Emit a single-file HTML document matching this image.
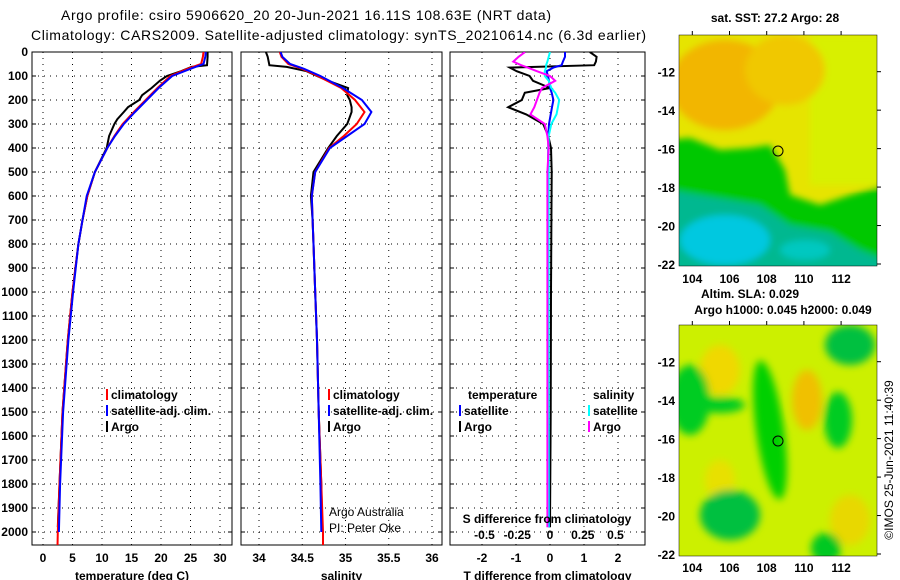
<!DOCTYPE html>
<html><head><meta charset="utf-8"><style>
html,body{margin:0;padding:0;background:#fff;width:900px;height:580px;overflow:hidden}
svg{display:block;font-family:"Liberation Sans",sans-serif}
.t{font-size:12px;font-weight:bold;fill:#000}
</style></head><body>
<svg id="s" width="900" height="580" viewBox="0 0 900 580" xmlns="http://www.w3.org/2000/svg">
<defs>
<filter id="bl" x="-20%" y="-20%" width="140%" height="140%"><feGaussianBlur stdDeviation="3.5"/></filter>
<filter id="bl2" x="-20%" y="-20%" width="140%" height="140%"><feGaussianBlur stdDeviation="4"/></filter>
<clipPath id="c1"><rect x="32" y="52" width="200" height="493"/></clipPath>
<clipPath id="c2"><rect x="241" y="52" width="201" height="493"/></clipPath>
<clipPath id="c3"><rect x="450" y="52" width="195" height="493"/></clipPath>
<clipPath id="m1"><rect x="679" y="35" width="198" height="231"/></clipPath>
<clipPath id="m2"><rect x="679" y="325" width="198" height="231"/></clipPath>
</defs>
<text x="61" y="20" font-size="14" textLength="490">Argo profile: csiro 5906620_20 20-Jun-2021 16.11S 108.63E (NRT data)</text>
<text x="31" y="40" font-size="14" textLength="615">Climatology: CARS2009. Satellite-adjusted climatology: synTS_20210614.nc (6.3d earlier)</text>

<g>
<g clip-path="url(#m1)">
<rect x="679" y="35" width="198" height="231" fill="#e6e400"/>
<g filter="url(#bl)">
<rect x="810" y="35" width="80" height="150" fill="#d8f000"/>
<ellipse cx="725" cy="85" rx="55" ry="45" fill="#f2b600"/>
<ellipse cx="785" cy="70" rx="40" ry="35" fill="#f0c800"/>
<polygon points="670,140 690,138 720,150 750,148 770,145 785,170 790,195 820,205 850,195 885,185 885,275 670,275" fill="#00c800"/>
<polygon points="670,190 700,195 760,205 790,225 830,232 860,250 885,260 885,275 670,275" fill="#00b890"/>
<ellipse cx="725" cy="240" rx="45" ry="25" fill="#00c8e0"/>
<ellipse cx="805" cy="250" rx="25" ry="10" fill="#00c8c0"/>
</g>
</g>
<rect x="679" y="35" width="198" height="231" fill="none" stroke="#000" stroke-width="0.5"/>
<circle cx="778" cy="151" r="5" fill="none" stroke="#000" stroke-width="1"/>
</g>
<text x="775" y="22" class="t" text-anchor="middle">sat. SST: 27.2 Argo: 28</text>
<text x="750" y="298" class="t" text-anchor="middle">Altim. SLA: 0.029</text>
<text x="783" y="314" class="t" text-anchor="middle">Argo h1000: 0.045 h2000: 0.049</text>

<g>
<g clip-path="url(#m2)">
<rect x="679" y="325" width="198" height="231" fill="#ccf000"/>
<g filter="url(#bl2)">
<ellipse cx="720" cy="370" rx="20" ry="25" fill="#f0d800"/>
<ellipse cx="807" cy="400" rx="15" ry="30" fill="#f0c000"/>
<ellipse cx="720" cy="480" rx="15" ry="20" fill="#e8e000"/>
<ellipse cx="850" cy="520" rx="20" ry="25" fill="#e8d800"/>
<ellipse cx="770" cy="430" rx="14" ry="70" fill="#00d000" transform="rotate(-8 770 430)"/>
<ellipse cx="850" cy="345" rx="25" ry="20" fill="#00c040"/>
<ellipse cx="690" cy="400" rx="20" ry="35" fill="#00cc20"/>
<ellipse cx="720" cy="405" rx="25" ry="8" fill="#00cc20"/>
<ellipse cx="838" cy="420" rx="14" ry="28" fill="#00cc20"/>
<ellipse cx="730" cy="515" rx="30" ry="25" fill="#00c040"/>
<ellipse cx="826" cy="548" rx="15" ry="15" fill="#00c820"/>
</g>
</g>
<rect x="679" y="325" width="198" height="231" fill="none" stroke="#000" stroke-width="0.5"/>
<circle cx="778" cy="441" r="5" fill="none" stroke="#000" stroke-width="1"/>
</g>
<text transform="translate(893,460) rotate(-90)" font-size="12" text-anchor="middle">©IMOS 25-Jun-2021 11:40:39</text>
<g id="dyn"></g>
</svg>
<script>
// ---- data ----
const depthTicks = [0,100,200,300,400,500,600,700,800,900,1000,1100,1200,1300,1400,1500,1600,1700,1800,1900,2000];
const tempTicks = [0,5,10,15,20,25,30];
const salTicks = [34,34.5,35,35.5,36];
const dTTicks = [-2,-1,0,1,2];
const dSTicks = [-0.5,-0.25,0,0.25,0.5];
const lonTicks = [104,106,108,110,112];
const latTicks = [-12,-14,-16,-18,-20,-22];

const climDepth = [0,20,50,70,100,150,200,250,300,350,400,500,600,700,800,1000,1200,1500,1800,2000,2060];
const climTemp  = [27.2,27.1,26.8,24.5,21.6,19.4,17.4,15.4,13.5,12.1,10.9,8.8,7.5,6.7,6.0,5.0,4.2,3.3,2.8,2.5,2.45];
const satTemp   = [27.6,27.5,27.2,25.0,21.9,19.6,17.6,15.6,13.7,12.2,10.9,8.8,7.4,6.7,6.0,5.1,4.3,3.4,2.9,2.7];
const argoDepth = [0,20,55,62,80,100,120,150,180,200,230,250,280,300,350,400,500,600,700,800,1000,1200,1500,1800,1980];
const argoTemp  = [27.9,27.9,27.8,25.2,23.4,21.0,19.8,18.4,16.8,16.3,14.4,13.7,12.6,12.1,11.2,10.8,8.8,7.5,6.7,6.0,5.0,4.2,3.3,2.8,2.5];

const climSal = [34.24,34.26,34.34,34.5,34.68,34.95,35.11,35.22,35.13,34.98,34.81,34.65,34.61,34.62,34.63,34.65,34.67,34.69,34.72,34.74,34.74];
const satSal  = [34.25,34.27,34.36,34.52,34.71,34.97,35.19,35.3,35.22,35.02,34.82,34.65,34.61,34.62,34.63,34.65,34.67,34.69,34.71,34.72];
const argoSal = [34.08,34.10,34.12,34.32,34.55,34.67,34.8,35.03,35.02,35.05,35.07,35.07,35.04,35.02,34.9,34.8,34.63,34.6,34.62,34.63,34.65,34.67,34.69,34.72,34.73];

const diffDepth = [0,20,40,55,65,80,100,120,150,170,200,230,260,300,350,400,500,700,1000,1500,1980];
const dTclim = [1.17,1.37,1.35,1.3,-1.18,-0.98,-0.6,-0.5,0.0,-0.74,-0.83,-1.23,-0.7,-0.2,-0.05,0.03,0.05,0.04,0.03,0.02,0.0];
const dTsat  = [0.44,0.44,0.38,0.34,0.1,-0.1,-0.06,-0.03,0.0,0.05,0.1,0.06,0.02,-0.03,-0.05,-0.05,-0.06,-0.05,-0.05,-0.04,-0.03];
const dSclim = [-0.19,-0.24,-0.28,-0.22,-0.17,-0.1,0.0,0.04,-0.06,-0.08,-0.1,-0.12,-0.15,-0.04,-0.02,-0.01,-0.02,-0.02,-0.02,-0.02,-0.02];
const dSsat  = [0.0,-0.01,-0.02,-0.03,-0.03,-0.04,-0.04,-0.01,0.01,0.04,0.07,0.06,0.05,0.01,-0.01,-0.01,-0.01,-0.01,-0.01,-0.01,-0.01];

// ---- axes ----
const yD = d => 52 + 0.24*d;
const xT = t => 43 + 5.9*t;
const xS = s => 259 + 86.5*(s-34);
const xdT = t => 550 + 34*t;
const xdS = s => 550 + 131*s;
const xLon = l => 692.3 + 18.6*(l-104);
const yLat1 = l => 71.7 + 19.23*(-12-l);
const yLat2 = l => 361.7 + 19.23*(-12-l);

const NS='http://www.w3.org/2000/svg';
const root=document.getElementById('dyn');
function mk(tag,at,parent){const e=document.createElementNS(NS,tag);for(const k in at)e.setAttribute(k,at[k]);(parent||root).appendChild(e);return e;}
function txt(x,y,s,anchor,parent){const e=mk('text',{x:x,y:y,'class':'t','text-anchor':anchor||'start'},parent);e.textContent=s;return e;}

const panels=[
 {x0:32,x1:232,clip:'c1',xs:xT,ticks:tempTicks,label:'temperature (deg C)',name:'temperature-panel'},
 {x0:241,x1:442,clip:'c2',xs:xS,ticks:salTicks,label:'salinity',name:'salinity-panel'},
 {x0:450,x1:645,clip:'c3',xs:xdT,ticks:dTTicks,label:'T difference from climatology',name:'difference-panel'}
];
panels.forEach(p=>{
  const g=mk('g',{});
  
  
  depthTicks.forEach(d=>{
    const l=mk('line',{x1:p.x0,x2:p.x1,y1:yD(d),y2:yD(d),stroke:'#000','stroke-width':1,'stroke-dasharray':'1 5'},g);
    
    
    mk('line',{x1:p.x0,x2:p.x0+4,y1:yD(d),y2:yD(d),stroke:'#000'},g);
    mk('line',{x1:p.x1-4,x2:p.x1,y1:yD(d),y2:yD(d),stroke:'#000'},g);
  });
  p.ticks.forEach(v=>{
    const x=p.xs(v);
    const l=mk('line',{x1:x,x2:x,y1:52,y2:545,stroke:'#000','stroke-width':1,'stroke-dasharray':'1 5'},g);
    
    
    const t=txt(x,562,String(v),'middle',g);
    
    
  });
  mk('rect',{x:p.x0,y:52,width:p.x1-p.x0,height:493,fill:'none',stroke:'#000','stroke-width':1},g);
  const xl=txt((p.x0+p.x1)/2,580,p.label,'middle',g);
  
  
});
depthTicks.forEach(d=>{
  const t=txt(28,yD(d)+4,String(d),'end');
  
  
});

function line(depths,vals,xs,color,clip,name){
  const pts=vals.map((v,i)=>xs(v).toFixed(1)+','+yD(depths[i]).toFixed(1)).join(' ');
  const e=mk('polyline',{points:pts,fill:'none',stroke:color,'stroke-width':2,'clip-path':'url(#'+clip+')'});
  
  
}
line(argoDepth,argoTemp,xT,'#000','c1','argo-temperature-line');
line(climDepth,climTemp,xT,'#f00','c1','climatology-temperature-line');
line(climDepth.slice(0,satTemp.length),satTemp,xT,'#00f','c1','satellite-temperature-line');
line(argoDepth,argoSal,xS,'#000','c2','argo-salinity-line');
line(climDepth,climSal,xS,'#f00','c2','climatology-salinity-line');
line(climDepth.slice(0,satSal.length),satSal,xS,'#00f','c2','satellite-salinity-line');
line(diffDepth,dTclim,xdT,'#000','c3','temperature-diff-argo-line');
line(diffDepth,dTsat,xdT,'#00f','c3','temperature-diff-satellite-line');
line(diffDepth,dSsat,xdS,'#0ff','c3','salinity-diff-satellite-line');
line(diffDepth,dSclim,xdS,'#f0f','c3','salinity-diff-argo-line');

const sTitle=txt(547,523,'S difference from climatology','middle');


dSTicks.forEach(v=>{
  const t=txt(xdS(v),539,String(v),'middle');
  
  
});
const cr1=mk('text',{x:329,y:516,'font-size':12});cr1.textContent='Argo Australia';


const cr2=mk('text',{x:329,y:532,'font-size':12});cr2.textContent='PI: Peter Oke';



function leg(x,y,color,label,name){
  const g=mk('g',{});
  
  
  mk('rect',{x:x,y:y-10,width:2,height:11,fill:color},g);
  txt(x+5,y,label,'start',g);
}
leg(106,399,'#f00','climatology','legend-climatology');
leg(106,415,'#00f','satellite-adj. clim.','legend-satellite-adj');
leg(106,431,'#000','Argo','legend-argo');
leg(328,399,'#f00','climatology','legend-climatology-sal');
leg(328,415,'#00f','satellite-adj. clim.','legend-satellite-adj-sal');
leg(328,431,'#000','Argo','legend-argo-sal');
const lt=txt(468,399,'temperature');
const ls=txt(593,399,'salinity');
leg(459,415,'#00f','satellite','legend-temp-satellite');
leg(459,431,'#000','Argo','legend-temp-argo');
leg(588,415,'#0ff','satellite','legend-sal-satellite');
leg(588,431,'#f0f','Argo','legend-sal-argo');

[[yLat1,283],[yLat2,572]].forEach(([yl,ly],mi)=>{
  const top = mi===0?35:325;
  latTicks.forEach(v=>{
    const y=yl(v);
    mk('line',{x1:877,x2:881,y1:y,y2:y,stroke:'#000'});
    const t=txt(675,y+5,String(v),'end');
    
    
  });
  lonTicks.forEach(v=>{
    const x=xLon(v);
    mk('line',{x1:x,x2:x,y1:top-4,y2:top,stroke:'#000'});
    const t=txt(x,ly,String(v),'middle');
    
    
  });
});
</script>
</body></html>
